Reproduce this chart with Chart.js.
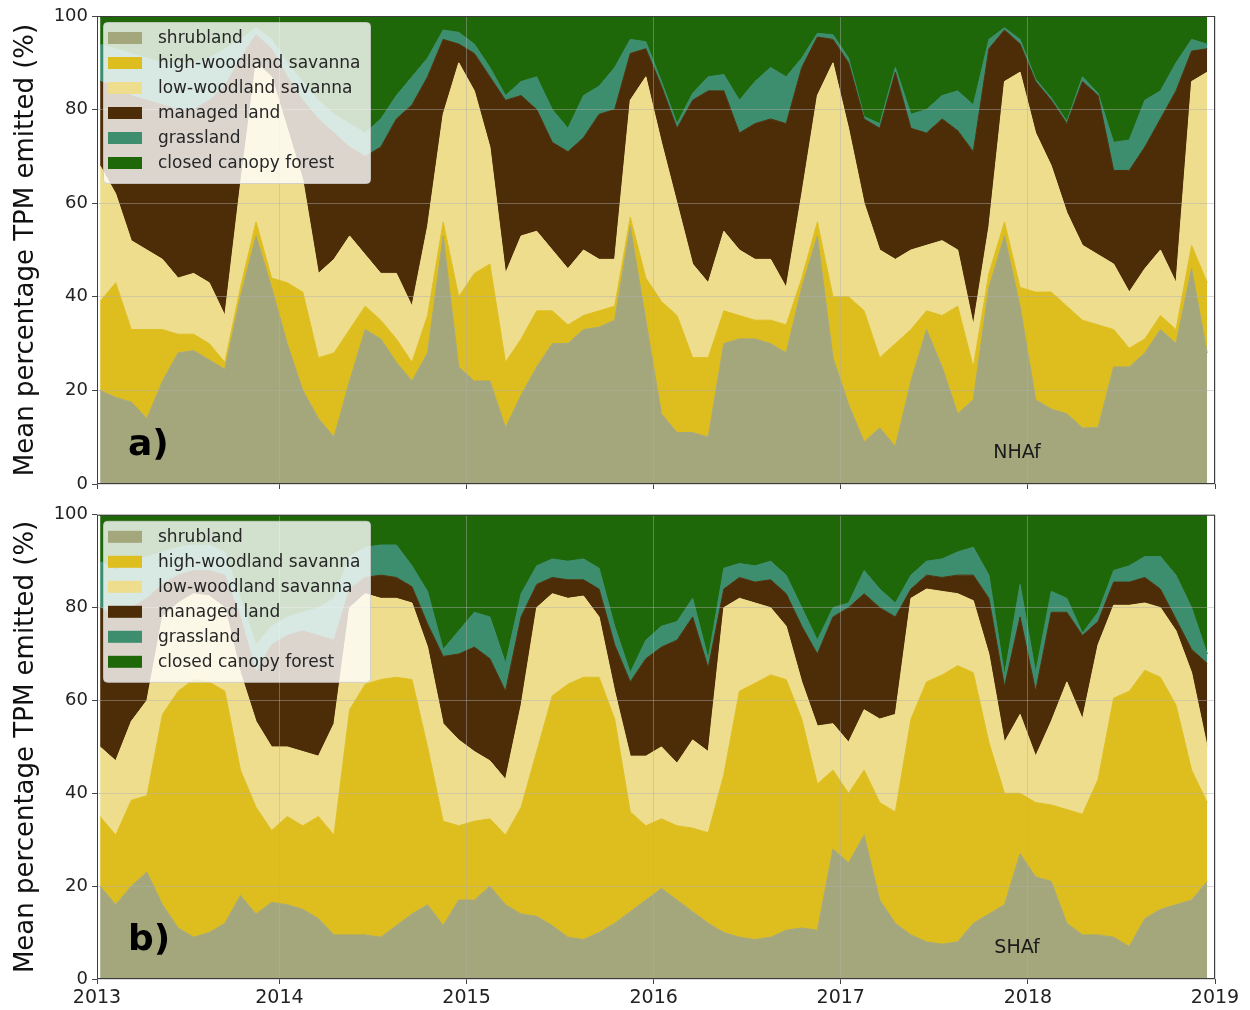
<!DOCTYPE html>
<html>
<head>
<meta charset="utf-8">
<title>Mean percentage TPM emitted by land cover</title>
<script src="https://cdn.jsdelivr.net/npm/chart.js@4.4.1/dist/chart.umd.min.js"></script>
<style>
  body { margin: 0; background: #fff; }
  #wrap { position: relative; width: 1250px; height: 1010px; }
  canvas { position: absolute; left: 0; }
  #nhaf { top: 0; }
  #shaf { top: 500px; }
</style>
</head>
<body>
<div id="wrap">
  <canvas id="nhaf" width="1250" height="500"></canvas>
  <canvas id="shaf" width="1250" height="510"></canvas>
</div>
<script>
// land cover classes, bottom of the stack first
const classNames = ['shrubland', 'high-woodland savanna', 'low-woodland savanna', 'managed land', 'grassland', 'closed canopy forest'];
const classColors = ['#a4a67b', '#debe1e', '#eedd8c', '#4d2d08', '#3c8e6e', '#1e680a'];

const yearLabels = ['2013', '2014', '2015', '2016', '2017', '2018', '2019'];

// monthly values Jan 2013 - Dec 2018, each array is the top of that class in the stack (%)
// forest fills whatever is left above grassland up to 100

// NHAf
const nhShrubTop = [20, 18.5, 17.5, 14, 22, 28, 28.5, 26.5, 24.5, 40, 53, 42,
  30, 20, 14, 10, 22, 33, 31, 26, 22, 28, 53, 25,
  22, 22, 12, 19, 25, 30, 30, 33, 33.5, 35, 55, 35,
  15, 11, 11, 10, 30, 31, 31, 30, 28, 42, 53, 27,
  17, 9, 12, 8, 22, 33, 25, 15, 18, 42, 53, 38,
  18, 16, 15, 12, 12, 25, 25, 28, 33, 30, 46, 28];
const nhHighTop = [39, 43, 33, 33, 33, 32, 32, 30, 26, 42, 56, 44,
  43, 41, 27, 28, 33, 38, 35, 31, 26, 36, 56, 40,
  45, 47, 26, 31, 37, 37, 34, 36, 37, 38, 57, 44,
  39, 36, 27, 27, 37, 36, 35, 35, 34, 44, 56, 40,
  40, 37, 27, 30, 33, 37, 36, 38, 25, 45, 56, 42,
  41, 41, 38, 35, 34, 33, 29, 31, 36, 33, 51, 43];
const nhLowTop = [68, 62, 52, 50, 48, 44, 45, 43, 36, 64, 90, 87,
  76, 65, 45, 48, 53, 49, 45, 45, 38, 55, 79, 90,
  84, 72, 45, 53, 54, 50, 46, 50, 48, 48, 82, 87,
  73, 60, 47, 43, 54, 50, 48, 48, 42, 62, 83, 90,
  76, 60, 50, 48, 50, 51, 52, 50, 34, 55, 86, 88,
  75, 68, 58, 51, 49, 47, 41, 46, 50, 43, 86, 88];
const nhManagedTop = [86, 85, 83, 82, 81, 80, 80, 82, 85, 91, 96, 93,
  87, 82, 78, 75, 72, 70, 72, 78, 81, 87, 95, 94,
  92, 87, 82, 83, 80, 73, 71, 74, 79, 80, 92, 93,
  85, 76, 82, 84, 84, 75, 77, 78, 77, 89, 95.5, 95,
  90, 78, 76, 88, 76, 75, 78, 75.5, 71, 93, 97, 94,
  86, 82, 77, 86, 83, 67, 67, 72, 78, 84, 92.5, 93];
const nhGrassTop = [94, 93, 92, 91, 90, 90, 90, 91, 93, 95, 97.5, 95,
  90, 86, 82, 79, 77, 75, 78, 83, 87, 91, 97, 96.5,
  94, 89, 83, 86, 87, 80, 76, 83, 85, 89, 95, 94.5,
  86, 77, 83.5, 87, 87.5, 82, 86, 89, 87, 91, 96.3, 96,
  91, 78.5, 77, 89, 79, 80, 83, 84, 81, 95, 97.5, 95,
  86.5, 82.5, 77.5, 87, 83.5, 73, 73.5, 82, 84, 90, 95, 94];

// SHAf
const shShrubTop = [20, 16, 20, 23, 16, 11, 9, 10, 12, 18, 14, 16.5,
  16, 15, 13, 9.5, 9.5, 9.5, 9, 11.5, 14, 16, 11.5, 17,
  17, 20, 16, 14, 13.5, 11.5, 9, 8.5, 10, 12, 14.5, 17,
  19.5, 17, 14.5, 12, 10, 9, 8.5, 9, 10.5, 11, 10.5, 28,
  25, 31, 17, 12, 9.5, 8, 7.5, 8, 12, 14, 16, 27,
  22, 21, 12, 9.5, 9.5, 9, 7, 13, 15, 16, 17, 21];
const shHighTop = [35, 31, 38.5, 39.5, 57, 62, 64.5, 64, 62, 45, 37, 32,
  35, 33, 35, 31, 58, 63.5, 64.5, 65, 64.5, 50, 34, 33,
  34, 34.5, 31, 37, 49, 61, 63.5, 65, 65, 56, 36, 33,
  34.5, 33, 32.5, 31.5, 44, 62, 63.7, 65.5, 64.5, 56, 42, 45,
  40, 45, 38, 36, 56, 64, 65.5, 67.5, 66, 51, 40, 40,
  38, 37.5, 36.5, 35.5, 43, 60.5, 62, 66.5, 65, 59, 45, 38];
const shLowTop = [50, 47, 55.5, 60, 78, 81, 83, 82.5, 80, 66, 55.5, 50,
  50, 49, 48, 55, 80, 83, 82, 82, 81, 71.5, 55, 51.5,
  49, 47, 43, 59, 80, 83, 82, 82.5, 78, 62, 48, 48,
  50, 46.5, 51.5, 49, 80, 82, 81, 80, 76, 64, 54.5, 55,
  51, 58, 56, 57, 82, 84, 83.5, 83, 81.5, 70, 51, 57,
  48, 55.5, 64, 56, 72, 80.5, 80.5, 81, 80, 75, 66, 50];
const shManagedTop = [80, 78, 80, 82, 85, 87, 88, 88, 87, 78, 66, 72,
  74, 75, 74, 73, 84, 86.5, 87, 86.5, 84.5, 76.5, 69.5, 70,
  71.5, 69, 62, 78, 85, 86.5, 86, 86, 84, 72, 64, 69,
  71.5, 73, 78, 67, 84, 86.5, 85.5, 86, 83, 76, 70, 78,
  80, 83, 80, 78, 84, 87, 86.5, 87, 87, 82, 63, 78,
  62, 79, 79, 74, 77, 85.5, 85.5, 86.5, 84, 77.5, 71, 68];
const shGrassTop = [90, 88, 90, 91, 92, 93, 93.5, 93.5, 92, 82, 72, 76,
  78, 79, 80, 82, 91, 93, 93.5, 93.5, 89, 83.5, 71, 75,
  79, 78, 68, 83, 89, 90.5, 90, 90.5, 88.5, 76, 66, 73,
  76, 77, 82, 69, 88.5, 89.5, 89, 90, 87, 80, 73, 80,
  81, 88, 84, 81, 87, 90, 90.5, 92, 93, 87, 65.5, 85,
  66, 83.5, 82, 74.5, 79, 88, 89, 91, 91, 87, 80, 70];

Chart.defaults.font.family = '"DejaVu Sans", sans-serif';

// x is months counted from 1 Jan 2013, values sit mid-month
const xStart = 0.3;

function toPoints(values) {
  return values.map((v, i) => ({ x: i + 0.5, y: v }));
}

function buildDatasets(tops) {
  const fills = ['origin', '-1', '-1', '-1', '-1', 'end'];
  const series = tops.concat([tops[4]]);
  return series.map((vals, k) => ({
    label: classNames[k],
    data: toPoints(vals),
    backgroundColor: classColors[k],
    borderColor: classColors[k],
    borderWidth: 1,
    pointRadius: 0,
    tension: 0,
    fill: fills[k]
  }));
}

// frame, panel letter, region name and the boxed legend inside the plot
const panelDecor = {
  id: 'panelDecor',
  afterDraw(chart, args, opts) {
    const ctx = chart.ctx;
    const a = chart.chartArea;
    ctx.save();

    ctx.strokeStyle = '#3c3c3c';
    ctx.lineWidth = 1;
    ctx.strokeRect(a.left + 0.5, a.top + 0.5, a.right - a.left - 1, a.bottom - a.top - 1);

    ctx.fillStyle = '#000';
    ctx.textAlign = 'left';
    ctx.textBaseline = 'alphabetic';
    ctx.font = 'bold 36px "DejaVu Sans"';
    ctx.fillText(opts.letter, a.left + 31, a.bottom - 29);

    ctx.font = '19px "DejaVu Sans"';
    ctx.textAlign = 'center';
    ctx.fillStyle = '#1a1a1a';
    ctx.fillText(opts.region, a.left + 920, a.bottom - 26);

    // legend box
    const lx = a.left + 6, ly = a.top + 6, lw = 267, lh = 161;
    ctx.beginPath();
    ctx.roundRect(lx + 0.5, ly + 0.5, lw, lh, 4);
    ctx.fillStyle = 'rgba(255,255,255,0.8)';
    ctx.fill();
    ctx.strokeStyle = 'rgba(204,204,204,0.8)';
    ctx.stroke();

    ctx.font = '17px "DejaVu Sans"';
    ctx.textAlign = 'left';
    ctx.textBaseline = 'middle';
    chart.data.datasets.forEach((ds, k) => {
      const cy = ly + 16 + k * 25;
      ctx.fillStyle = ds.backgroundColor;
      ctx.fillRect(lx + 5, cy - 6, 34, 12);
      ctx.fillStyle = '#262626';
      ctx.fillText(ds.label, lx + 55, cy + 1);
    });

    ctx.restore();
  }
};

function makeChart(id, tops, letter, region, showYears, padTop, xHeight) {
  return new Chart(document.getElementById(id), {
    type: 'line',
    data: { datasets: buildDatasets(tops) },
    options: {
      responsive: false,
      animation: false,
      devicePixelRatio: 1,
      layout: { padding: { top: padTop, right: 35, bottom: 0, left: 0 } },
      plugins: {
        legend: { display: false },
        tooltip: { enabled: false },
        panelDecor: { letter: letter, region: region }
      },
      scales: {
        x: {
          type: 'linear',
          min: xStart,
          max: 72,
          afterBuildTicks: (scale) => {
            scale.ticks = yearLabels.map((lab, k) => ({ value: k === 0 ? xStart : k * 12 }));
          },
          afterFit: (scale) => { scale.height = xHeight; },
          ticks: {
            display: showYears,
            autoSkip: false,
            maxRotation: 0,
            padding: 3,
            color: '#222',
            font: { size: 19 },
            callback: (value, index) => yearLabels[index]
          },
          grid: { z: 1, color: 'rgba(176,176,176,0.45)', tickLength: 5, tickColor: '#444' },
          border: { display: false }
        },
        y: {
          min: 0,
          max: 100,
          afterFit: (scale) => { scale.width = 97; },
          ticks: { stepSize: 20, padding: 4, color: '#222', font: { size: 18 } },
          grid: { z: 1, color: 'rgba(176,176,176,0.45)', tickLength: 5, tickColor: '#444' },
          border: { display: false },
          title: {
            display: true,
            text: 'Mean percentage TPM emitted (%)',
            color: '#111',
            font: { size: 26 },
            padding: { top: 11, bottom: 0 }
          }
        }
      }
    },
    plugins: [panelDecor]
  });
}

makeChart('nhaf', [nhShrubTop, nhHighTop, nhLowTop, nhManagedTop, nhGrassTop], 'a)', 'NHAf', false, 16, 16);
makeChart('shaf', [shShrubTop, shHighTop, shLowTop, shManagedTop, shGrassTop], 'b)', 'SHAf', true, 12, 31);
</script>
</body>
</html>
